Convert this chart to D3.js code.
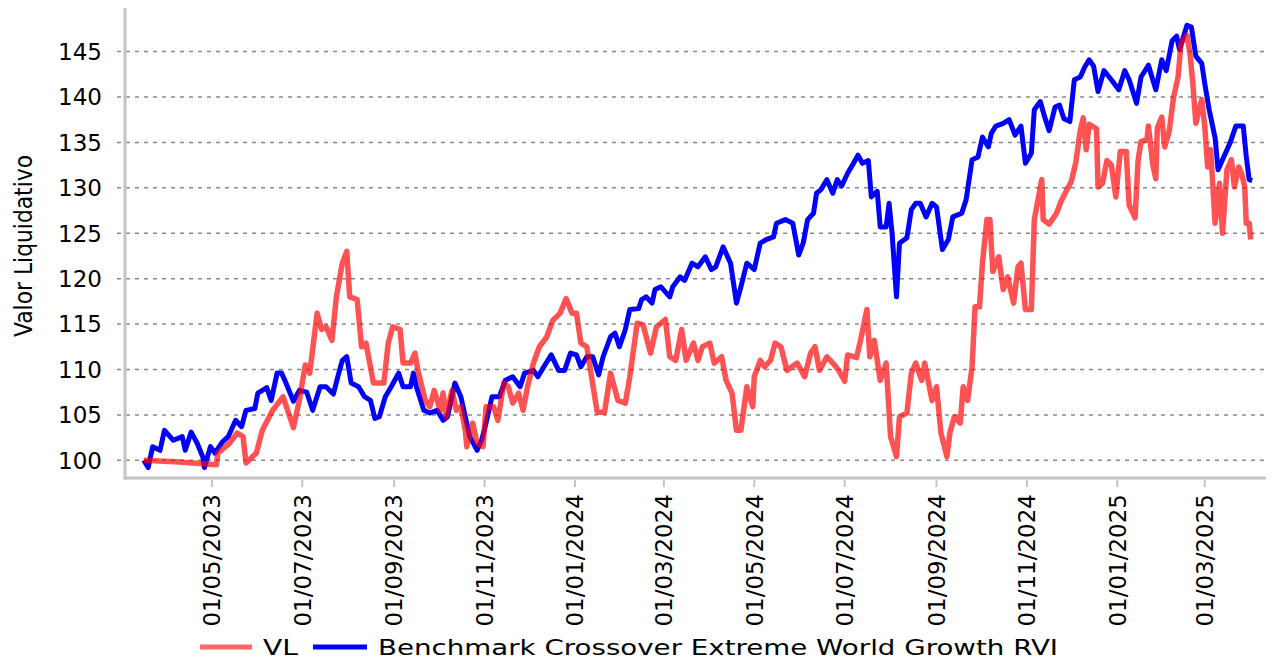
<!DOCTYPE html>
<html>
<head>
<meta charset="utf-8">
<script src="https://cdn.jsdelivr.net/npm/d3@7/dist/d3.min.js"></script>
<style>
    body { margin: 0; background: #fff; }
    text { font-family: "DejaVu Sans", sans-serif; fill: #000; }
</style>
</head>
<body>
<svg id="chart" width="1275" height="660"></svg>
<script>
// VL (fund) values
const vlData = [
    ['2023-03-16', 100.0], ['2023-04-09', 99.8], ['2023-05-04', 99.5], ['2023-05-05', 100.8],
    ['2023-05-13', 101.9], ['2023-05-18', 103.0], ['2023-05-22', 102.6], ['2023-05-24', 99.7],
    ['2023-05-31', 100.8], ['2023-06-04', 103.3], ['2023-06-11', 105.5], ['2023-06-18', 107.0],
    ['2023-06-25', 103.6], ['2023-06-29', 106.6], ['2023-07-03', 110.5], ['2023-07-06', 109.6],
    ['2023-07-11', 116.2], ['2023-07-14', 114.4], ['2023-07-17', 114.7], ['2023-07-21', 113.2],
    ['2023-07-24', 118.0], ['2023-07-28', 121.7], ['2023-07-31', 123.0], ['2023-08-02', 118.0],
    ['2023-08-07', 117.7], ['2023-08-10', 112.5], ['2023-08-13', 112.9], ['2023-08-18', 108.5],
    ['2023-08-25', 108.5], ['2023-08-28', 112.9], ['2023-08-31', 114.7], ['2023-09-05', 114.4],
    ['2023-09-07', 110.7], ['2023-09-12', 110.7], ['2023-09-15', 111.8], ['2023-09-17', 109.9],
    ['2023-09-22', 106.6], ['2023-09-25', 105.9], ['2023-09-28', 107.7], ['2023-10-02', 105.5],
    ['2023-10-04', 107.4], ['2023-10-06', 104.8], ['2023-10-10', 107.7], ['2023-10-13', 105.5],
    ['2023-10-16', 105.9], ['2023-10-19', 103.3], ['2023-10-20', 101.5], ['2023-10-24', 104.1],
    ['2023-10-27', 101.9], ['2023-10-31', 101.5], ['2023-11-02', 105.9], ['2023-11-07', 105.9],
    ['2023-11-10', 104.4], ['2023-11-14', 108.5], ['2023-11-17', 108.1], ['2023-11-20', 106.3],
    ['2023-11-24', 107.4], ['2023-11-27', 105.5], ['2023-11-30', 108.1], ['2023-12-04', 110.7],
    ['2023-12-08', 112.5], ['2023-12-13', 113.6], ['2023-12-17', 115.4], ['2023-12-22', 116.2],
    ['2023-12-26', 117.8], ['2023-12-30', 116.2], ['2024-01-02', 116.2], ['2024-01-05', 112.9],
    ['2024-01-09', 112.5], ['2024-01-12', 109.4], ['2024-01-16', 105.3], ['2024-01-21', 105.3],
    ['2024-01-25', 109.6], ['2024-01-30', 106.6], ['2024-02-04', 106.3], ['2024-02-07', 109.2],
    ['2024-02-12', 115.1], ['2024-02-16', 114.9], ['2024-02-21', 111.8], ['2024-02-25', 114.7],
    ['2024-03-02', 115.5], ['2024-03-05', 111.4], ['2024-03-09', 111.0], ['2024-03-13', 114.4],
    ['2024-03-16', 111.0], ['2024-03-21', 112.9], ['2024-03-24', 111.0], ['2024-03-27', 112.5],
    ['2024-04-01', 112.9], ['2024-04-04', 110.7], ['2024-04-09', 111.4], ['2024-04-12', 108.8],
    ['2024-04-16', 107.4], ['2024-04-19', 103.3], ['2024-04-22', 103.3], ['2024-04-26', 108.1],
    ['2024-04-30', 105.9], ['2024-05-01', 109.2], ['2024-05-05', 111.0], ['2024-05-08', 110.3],
    ['2024-05-12', 111.0], ['2024-05-15', 112.9], ['2024-05-19', 112.5], ['2024-05-23', 109.9],
    ['2024-05-30', 110.7], ['2024-06-04', 109.2], ['2024-06-08', 111.8], ['2024-06-11', 112.5],
    ['2024-06-14', 109.9], ['2024-06-19', 111.4], ['2024-06-23', 110.7], ['2024-06-27', 109.9],
    ['2024-07-01', 108.7], ['2024-07-03', 111.6], ['2024-07-09', 111.3], ['2024-07-12', 113.4],
    ['2024-07-16', 116.6], ['2024-07-18', 111.4], ['2024-07-21', 113.2], ['2024-07-25', 108.8],
    ['2024-07-29', 110.7], ['2024-08-01', 102.6], ['2024-08-05', 100.4], ['2024-08-07', 104.8],
    ['2024-08-12', 105.2], ['2024-08-15', 109.6], ['2024-08-18', 110.7], ['2024-08-22', 108.8],
    ['2024-08-24', 110.7], ['2024-08-29', 106.6], ['2024-09-01', 108.1], ['2024-09-04', 103.0],
    ['2024-09-08', 100.4], ['2024-09-10', 103.0], ['2024-09-13', 104.8], ['2024-09-17', 104.1],
    ['2024-09-19', 108.1], ['2024-09-22', 106.6], ['2024-09-25', 110.3], ['2024-09-27', 116.9],
    ['2024-09-30', 116.9], ['2024-10-02', 121.7], ['2024-10-05', 126.5], ['2024-10-07', 126.5],
    ['2024-10-09', 120.8], ['2024-10-13', 122.4], ['2024-10-16', 118.8], ['2024-10-19', 120.2],
    ['2024-10-23', 117.3], ['2024-10-26', 121.3], ['2024-10-28', 121.7], ['2024-10-31', 116.6],
    ['2024-11-04', 116.6], ['2024-11-06', 126.5], ['2024-11-11', 130.9], ['2024-11-12', 126.5],
    ['2024-11-16', 126.0], ['2024-11-21', 127.2], ['2024-11-24', 128.5], ['2024-11-28', 129.8],
    ['2024-12-01', 130.7], ['2024-12-04', 132.8], ['2024-12-07', 136.3], ['2024-12-09', 137.7],
    ['2024-12-11', 134.2], ['2024-12-13', 137.0], ['2024-12-18', 136.5], ['2024-12-19', 130.1],
    ['2024-12-22', 130.5], ['2024-12-25', 133.0], ['2024-12-28', 132.5], ['2024-12-31', 129.0],
    ['2025-01-03', 134.0], ['2025-01-07', 134.0], ['2025-01-09', 128.1], ['2025-01-13', 126.7],
    ['2025-01-15', 133.0], ['2025-01-17', 135.1], ['2025-01-21', 135.3], ['2025-01-22', 136.8],
    ['2025-01-25', 132.5], ['2025-01-27', 131.0], ['2025-01-28', 136.6], ['2025-01-31', 137.8],
    ['2025-02-02', 134.5], ['2025-02-05', 136.2], ['2025-02-08', 140.0], ['2025-02-11', 142.2],
    ['2025-02-13', 145.9], ['2025-02-17', 146.8], ['2025-02-19', 144.8], ['2025-02-21', 141.5],
    ['2025-02-23', 137.1], ['2025-02-27', 139.7], ['2025-03-01', 136.8], ['2025-03-03', 132.3],
    ['2025-03-05', 134.2], ['2025-03-08', 126.1], ['2025-03-11', 130.5], ['2025-03-13', 125.0],
    ['2025-03-16', 132.0], ['2025-03-19', 133.1], ['2025-03-21', 130.1], ['2025-03-24', 132.3],
    ['2025-03-26', 131.5], ['2025-03-28', 130.1], ['2025-03-29', 126.1], ['2025-03-31', 126.1],
    ['2025-04-01', 124.3]
];

// Benchmark values
const benchData = [
    ['2023-03-16', 100.0], ['2023-03-19', 99.2], ['2023-03-22', 101.5], ['2023-03-27', 101.1],
    ['2023-03-30', 103.3], ['2023-04-05', 102.2], ['2023-04-11', 102.6], ['2023-04-13', 101.1],
    ['2023-04-17', 103.1], ['2023-04-21', 101.9], ['2023-04-25', 100.3], ['2023-04-26', 99.2],
    ['2023-04-30', 101.5], ['2023-05-03', 100.8], ['2023-05-08', 102.0], ['2023-05-12', 102.6],
    ['2023-05-17', 104.4], ['2023-05-21', 103.7], ['2023-05-24', 105.5], ['2023-05-30', 105.7],
    ['2023-06-01', 107.4], ['2023-06-07', 108.0], ['2023-06-10', 106.6], ['2023-06-14', 109.6],
    ['2023-06-17', 109.6], ['2023-06-20', 108.5], ['2023-06-25', 106.5], ['2023-06-29', 107.7],
    ['2023-07-04', 107.5], ['2023-07-08', 105.5], ['2023-07-13', 108.1], ['2023-07-17', 108.1],
    ['2023-07-22', 107.3], ['2023-07-25', 109.2], ['2023-07-28', 111.0], ['2023-07-31', 111.4],
    ['2023-08-03', 108.5], ['2023-08-08', 108.1], ['2023-08-12', 107.0], ['2023-08-16', 106.6],
    ['2023-08-19', 104.6], ['2023-08-22', 104.8], ['2023-08-26', 107.0], ['2023-08-30', 108.1],
    ['2023-09-04', 109.6], ['2023-09-07', 108.1], ['2023-09-12', 108.1], ['2023-09-14', 109.6],
    ['2023-09-16', 108.1], ['2023-09-21', 105.5], ['2023-09-25', 105.2], ['2023-09-30', 105.5],
    ['2023-10-04', 104.4], ['2023-10-07', 104.8], ['2023-10-12', 108.5], ['2023-10-16', 107.0],
    ['2023-10-19', 104.8], ['2023-10-22', 102.6], ['2023-10-27', 101.1], ['2023-10-30', 102.2],
    ['2023-11-02', 104.1], ['2023-11-06', 107.0], ['2023-11-11', 107.0], ['2023-11-15', 108.8],
    ['2023-11-20', 109.2], ['2023-11-25', 108.1], ['2023-11-28', 109.6], ['2023-12-04', 109.9],
    ['2023-12-07', 109.2], ['2023-12-11', 110.3], ['2023-12-16', 111.6], ['2023-12-21', 109.9],
    ['2023-12-25', 109.9], ['2023-12-29', 111.8], ['2024-01-02', 111.6], ['2024-01-05', 110.3],
    ['2024-01-09', 111.4], ['2024-01-13', 111.4], ['2024-01-17', 109.4], ['2024-01-20', 111.4],
    ['2024-01-25', 113.6], ['2024-01-28', 114.0], ['2024-01-31', 112.5], ['2024-02-04', 114.4],
    ['2024-02-07', 116.6], ['2024-02-13', 116.7], ['2024-02-15', 117.7], ['2024-02-18', 118.0],
    ['2024-02-22', 117.3], ['2024-02-24', 118.8], ['2024-02-28', 119.1], ['2024-03-05', 118.0],
    ['2024-03-07', 119.1], ['2024-03-12', 120.2], ['2024-03-15', 119.8], ['2024-03-20', 121.7],
    ['2024-03-24', 121.3], ['2024-03-29', 122.4], ['2024-04-02', 121.0], ['2024-04-05', 121.3],
    ['2024-04-10', 123.5], ['2024-04-15', 121.7], ['2024-04-19', 117.3], ['2024-04-22', 119.1],
    ['2024-04-26', 121.7], ['2024-05-01', 121.0], ['2024-05-05', 123.9], ['2024-05-09', 124.3],
    ['2024-05-14', 124.6], ['2024-05-16', 126.1], ['2024-05-22', 126.5], ['2024-05-27', 126.1],
    ['2024-05-31', 122.6], ['2024-06-03', 123.9], ['2024-06-06', 126.5], ['2024-06-10', 127.2],
    ['2024-06-12', 129.4], ['2024-06-15', 129.8], ['2024-06-19', 130.9], ['2024-06-23', 129.4],
    ['2024-06-26', 130.9], ['2024-06-29', 130.2], ['2024-07-03', 131.6], ['2024-07-07', 132.7],
    ['2024-07-10', 133.6], ['2024-07-13', 132.7], ['2024-07-17', 133.0], ['2024-07-19', 129.0],
    ['2024-07-23', 129.6], ['2024-07-25', 125.7], ['2024-07-29', 125.7], ['2024-07-31', 128.3],
    ['2024-08-02', 125.0], ['2024-08-05', 118.0], ['2024-08-07', 123.9], ['2024-08-12', 124.5],
    ['2024-08-15', 127.6], ['2024-08-18', 128.3], ['2024-08-21', 128.3], ['2024-08-25', 126.8],
    ['2024-08-29', 128.3], ['2024-09-01', 127.9], ['2024-09-05', 123.2], ['2024-09-09', 124.3],
    ['2024-09-12', 126.8], ['2024-09-18', 127.2], ['2024-09-21', 128.7], ['2024-09-25', 133.1],
    ['2024-09-29', 133.4], ['2024-10-02', 135.6], ['2024-10-06', 134.5], ['2024-10-08', 136.0],
    ['2024-10-11', 136.8], ['2024-10-16', 137.1], ['2024-10-20', 137.5], ['2024-10-24', 135.8],
    ['2024-10-28', 136.8], ['2024-10-31', 132.7], ['2024-11-04', 133.8], ['2024-11-06', 138.6],
    ['2024-11-10', 139.5], ['2024-11-13', 137.8], ['2024-11-16', 136.3], ['2024-11-20', 138.9],
    ['2024-11-23', 139.1], ['2024-11-26', 137.6], ['2024-11-30', 137.3], ['2024-12-03', 141.9],
    ['2024-12-07', 142.2], ['2024-12-10', 143.3], ['2024-12-13', 144.1], ['2024-12-16', 143.4],
    ['2024-12-19', 140.6], ['2024-12-23', 142.9], ['2024-12-28', 141.9], ['2025-01-02', 140.8],
    ['2025-01-06', 142.9], ['2025-01-09', 141.9], ['2025-01-14', 139.3], ['2025-01-17', 142.2],
    ['2025-01-22', 143.5], ['2025-01-27', 140.8], ['2025-01-31', 144.1], ['2025-02-03', 142.9],
    ['2025-02-07', 146.2], ['2025-02-10', 146.7], ['2025-02-12', 145.2], ['2025-02-17', 147.9],
    ['2025-02-20', 147.7], ['2025-02-23', 144.5], ['2025-02-27', 143.7], ['2025-03-01', 141.5],
    ['2025-03-04', 138.6], ['2025-03-08', 135.5], ['2025-03-10', 132.0], ['2025-03-13', 133.1],
    ['2025-03-18', 134.9], ['2025-03-22', 136.8], ['2025-03-27', 136.8], ['2025-03-29', 133.5],
    ['2025-03-31', 130.9], ['2025-04-02', 130.8]
];

const yTicks = [100, 105, 110, 115, 120, 125, 130, 135, 140, 145];
const xTickDates = [
    '2023-05-01', '2023-07-01', '2023-09-01', '2023-11-01', '2024-01-01', '2024-03-01',
    '2024-05-01', '2024-07-01', '2024-09-01', '2024-11-01', '2025-01-01', '2025-03-01'
];
const seriesNames = ['VL', 'Benchmark Crossover Extreme World Growth RVI'];
const yTitle = 'Valor Liquidativo';

const parse = d3.timeParse('%Y-%m-%d');
const fmt = d3.timeFormat('%d/%m/%Y');

const svg = d3.select('#chart');

const x = d3.scaleTime()
    .domain([parse('2023-03-02'), parse('2025-04-10')])
    .range([123, 1264]);
const y = d3.scaleLinear()
    .domain([98.05, 149.8])
    .range([478, 8]);

// dashed grid
svg.append('g')
    .selectAll('line')
    .data(yTicks)
    .enter()
    .append('line')
    .attr('x1', 117)
    .attr('x2', 1265)
    .attr('y1', d => y(d))
    .attr('y2', d => y(d))
    .attr('stroke', '#8a8a8a')
    .attr('stroke-width', 1.5)
    .attr('stroke-dasharray', '4,5');

// y tick labels
svg.append('g')
    .selectAll('text')
    .data(yTicks)
    .enter()
    .append('text')
    .attr('x', 102)
    .attr('y', d => y(d))
    .attr('dy', '0.36em')
    .attr('text-anchor', 'end')
    .style('font-size', '23px')
    .text(d => d);

// axis lines
svg.append('line')
    .attr('x1', 125).attr('x2', 125)
    .attr('y1', 8).attr('y2', 479.5)
    .attr('stroke', '#c4c4c4').attr('stroke-width', 3);
svg.append('line')
    .attr('x1', 123.5).attr('x2', 1266)
    .attr('y1', 478).attr('y2', 478)
    .attr('stroke', '#c4c4c4').attr('stroke-width', 3);

// x ticks + rotated labels
const xg = svg.append('g')
    .selectAll('g')
    .data(xTickDates.map(parse))
    .enter()
    .append('g')
    .attr('transform', d => 'translate(' + x(d) + ',0)');
xg.append('line')
    .attr('y1', 480).attr('y2', 487)
    .attr('stroke', '#c4c4c4').attr('stroke-width', 2);
xg.append('text')
    .attr('transform', 'translate(0,494) rotate(-90)')
    .attr('dy', '0.36em')
    .attr('text-anchor', 'end')
    .style('font-size', '23px')
    .text(d => fmt(d));

// y title
svg.append('text')
    .attr('transform', 'translate(23,246) rotate(-90)')
    .attr('dy', '0.36em')
    .attr('text-anchor', 'middle')
    .attr('textLength', 182)
    .attr('lengthAdjust', 'spacingAndGlyphs')
    .style('font-size', '25px')
    .text(yTitle);

const line = d3.line()
    .x(d => x(parse(d[0])))
    .y(d => y(d[1]));

svg.append('path')
    .datum(benchData)
    .attr('d', line)
    .attr('fill', 'none')
    .attr('stroke', '#0000ff')
    .attr('stroke-width', 5)
    .attr('stroke-linejoin', 'round');

svg.append('path')
    .datum(vlData)
    .attr('d', line)
    .attr('fill', 'none')
    .attr('stroke', '#ff0000')
    .attr('stroke-opacity', 0.68)
    .attr('stroke-width', 5.5)
    .attr('stroke-linejoin', 'round');

// legend
const legend = [
    { name: seriesNames[0], color: '#ff0000', op: 0.6, x1: 200, x2: 252, tx: 263, tw: 35 },
    { name: seriesNames[1], color: '#0000ff', op: 1, x1: 313, x2: 367, tx: 378, tw: 680 }
];
legend.forEach(function (o) {
    svg.append('line')
        .attr('x1', o.x1).attr('x2', o.x2)
        .attr('y1', 647).attr('y2', 647)
        .attr('stroke', o.color)
        .attr('stroke-opacity', o.op)
        .attr('stroke-width', 5);
    svg.append('text')
        .attr('x', o.tx)
        .attr('y', 647)
        .attr('dy', '0.36em')
        .attr('textLength', o.tw)
        .attr('lengthAdjust', 'spacingAndGlyphs')
        .style('font-size', '22px')
        .text(o.name);
});
</script>
</body>
</html>
